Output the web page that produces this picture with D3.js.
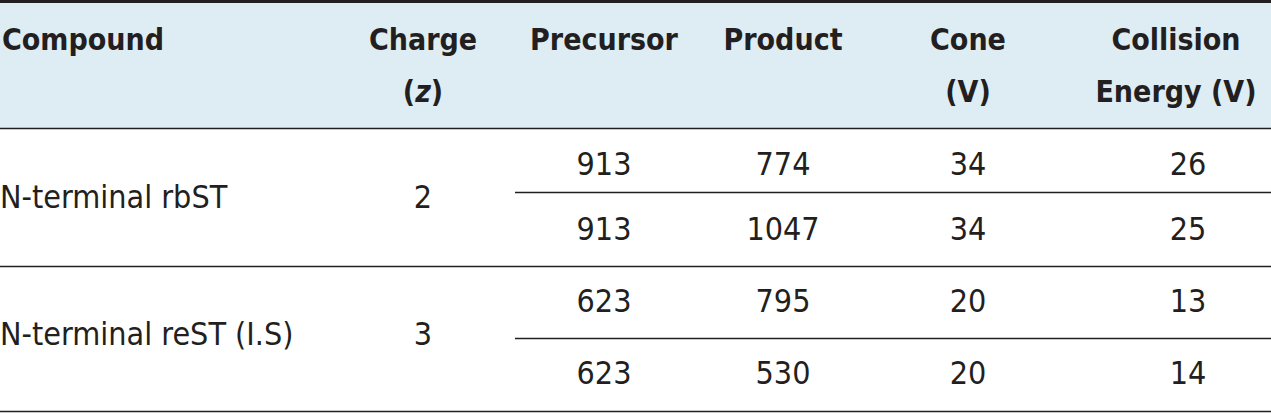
<!DOCTYPE html>
<html><head><meta charset="utf-8">
<script src="https://cdn.jsdelivr.net/npm/d3@7"></script>
<style>body{margin:0;background:#fff}</style>
</head><body>
<svg id="chart" width="1271" height="416"></svg>
<script>
// table content
const columns = ["Compound", "Charge", "Precursor", "Product", "Cone", "CE"];
const headerLine1 = ["Compound", "Charge", "Precursor", "Product", "Cone", "Collision"];
const headerLine2 = ["", "(z)", "", "", "(V)", "Energy (V)"];
const compounds = ["N-terminal rbST", "N-terminal reST (I.S)"];
const charges = [2, 3];
const precursor = [913, 913, 623, 623];
const product = [774, 1047, 795, 530];
const cone = [34, 34, 20, 20];
const collision = [26, 25, 13, 14];

const svg = d3.select("#chart");
const ink = "#231f20";
const font = "'DejaVu Sans Condensed',sans-serif";

// column centres
const x = d3.scaleOrdinal().domain(columns).range([2, 423, 604, 783, 968, 1176]);

svg.append("rect").attr("x", 0).attr("y", 0).attr("width", 1271).attr("height", 128).attr("fill", "#deedf4");
svg.append("rect").attr("x", 0).attr("y", 0).attr("width", 1271).attr("height", 3).attr("fill", ink);

const hdr = svg.append("g").attr("font-family", font).attr("font-weight", "bold")
  .attr("font-size", 30).attr("fill", ink);
columns.forEach((c, i) => {
  const anchor = i === 0 ? "start" : "middle";
  hdr.append("text").attr("x", x(c)).attr("y", 50).attr("text-anchor", anchor).text(headerLine1[i]);
  if (headerLine2[i]) {
    const t = hdr.append("text").attr("x", x(c)).attr("y", 102).attr("text-anchor", anchor);
    if (headerLine2[i] === "(z)") {
      t.append("tspan").text("(");
      t.append("tspan").attr("font-style", "italic").text("z");
      t.append("tspan").text(")");
    } else t.text(headerLine2[i]);
  }
});

// rules
const rules = [[0, 128], [515, 192], [0, 266], [515, 338], [0, 411]];
svg.selectAll("line.rule").data(rules).join("line")
  .attr("x1", d => d[0]).attr("x2", 1271).attr("y1", d => d[1] + 0.5).attr("y2", d => d[1] + 0.5)
  .attr("stroke", ink).attr("stroke-width", 1.3);

const body = svg.append("g").attr("font-family", font).attr("font-size", 32).attr("fill", ink);
const baseline = [175, 240, 312, 384];
const groupBase = [208, 345];
compounds.forEach((c, i) => {
  body.append("text").attr("x", 0).attr("y", groupBase[i]).text(c);
  body.append("text").attr("x", x("Charge")).attr("y", groupBase[i]).attr("text-anchor", "middle").text(charges[i]);
});
[["Precursor", precursor], ["Product", product], ["Cone", cone], ["CE", collision]].forEach(([col, vals]) => {
  body.selectAll(null).data(vals).join("text")
    .attr("x", col === "CE" ? 1188 : x(col)).attr("y", (d, i) => baseline[i]).attr("text-anchor", "middle").text(d => d);
});
</script>
</body></html>
